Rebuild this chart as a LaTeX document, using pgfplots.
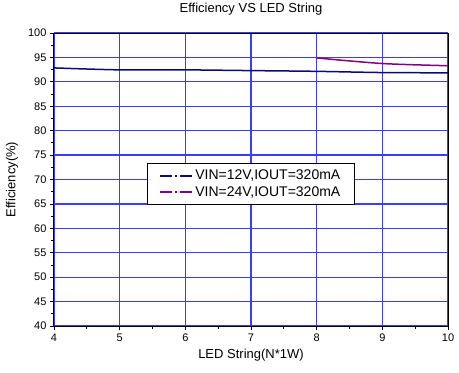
\documentclass[border=0pt]{standalone}
\usepackage{fontspec}
\setmainfont{Liberation Sans}
\usepackage{pgfplots}
\pgfplotsset{compat=1.18}
\definecolor{navyline}{RGB}{10,10,120}
\definecolor{purpline}{RGB}{130,0,130}
\definecolor{gridblue}{RGB}{60,60,255}
\begin{document}
\begin{tikzpicture}
\begin{axis}[
  name=ax,
  scale only axis,
  width=394pt, height=293pt,
  xmin=4, xmax=10, ymin=40, ymax=100,
  xtick={4,5,...,10}, ytick={40,45,...,100},
  minor x tick num=1, minor y tick num=1,
  tick align=outside, tick pos=left,
  major tick length=4pt, minor tick length=2.5pt,
  grid=major,
  major grid style={draw=gridblue, line width=1.2pt},
  axis line style={black, line width=1pt},
  xtick style={black, line width=0.8pt},
  ytick style={black, line width=0.8pt},
  ticklabel style={font=\fontsize{11}{13}\selectfont},
  /pgf/number format/assume math mode=true,
  title={Efficiency VS LED String},
  title style={font=\fontsize{13}{15}\selectfont, at={(axis description cs:0.5,1.0614)}, anchor=center},
  xlabel={LED String(N*1W)},
  ylabel={Efficiency(\%)},
  xlabel style={font=\fontsize{13}{15}\selectfont, at={(axis description cs:0.5,-0.099)}, anchor=center},
  ylabel style={font=\fontsize{13}{15}\selectfont, at={(axis description cs:-0.1066,0.5)}, anchor=center},
  legend style={at={(0.5,0.485)}, anchor=center, draw=black, line width=0.9pt, font=\fontsize{14}{16}\selectfont, inner xsep=12pt, inner ysep=5pt, row sep=1pt},
  legend cell align=left,
  legend image code/.code={\draw[#1, line width=1.6pt, dash pattern=on 12pt off 3pt on 2pt off 3pt on 12pt] (0pt,0pt) -- (32pt,0pt);},
]
\addplot[navyline, line width=1.5pt, smooth] coordinates {(4,92.85) (5,92.45) (6,92.45) (7,92.3) (8,92.15) (9,91.9) (10,91.85)};
\addlegendentry{VIN=12V,IOUT=320mA}
\addplot[purpline, line width=1.5pt, smooth] coordinates {(8,94.9) (9,93.75) (10,93.3)};
\addlegendentry{VIN=24V,IOUT=320mA}
\end{axis}
\pgfresetboundingbox
\path[use as bounding box] ([shift={(-54pt,-46pt)}]ax.south west) rectangle ([shift={(11pt,33pt)}]ax.north east);
\end{tikzpicture}
\end{document}
